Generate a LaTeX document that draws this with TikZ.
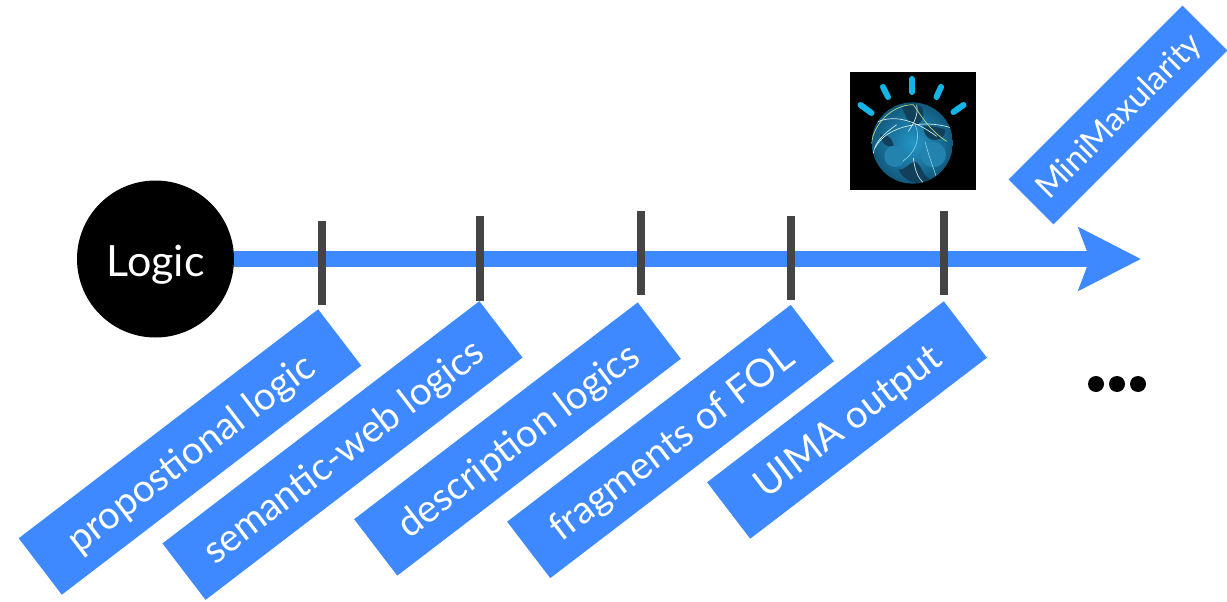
\documentclass[tikz,border=0pt]{standalone}
\usepackage{fontspec}
\setmainfont{Lato}
\usetikzlibrary{arrows.meta}
\definecolor{bluebar}{HTML}{3E89FF}
\definecolor{tickgrey}{HTML}{444444}
\definecolor{raycyan}{HTML}{14B4E6}
\definecolor{globelight}{HTML}{2396C6}
\definecolor{globeedge}{HTML}{12587C}
\definecolor{globedark}{HTML}{123F5A}
\definecolor{globeland}{HTML}{2482AE}
\definecolor{netwhite}{HTML}{C9E8EC}
\definecolor{netgreen}{HTML}{B4D88C}
\definecolor{netcyan}{HTML}{7CCBE6}
\tikzset{
  label box/.style={fill=bluebar,text=white,inner sep=0pt,text height=49.5pt,text depth=21.5pt,rotate=37.4,font=\fontsize{38.5}{38.5}\selectfont},
  tick mark/.style={draw=none,fill=tickgrey,minimum width=8pt,inner sep=0pt},
  ray/.style={draw=raycyan,line width=6pt,line cap=round},
  dot mark/.style={circle,fill=black,minimum size=16pt,inner sep=0pt},
  net/.style={draw=#1,line width=.7pt},
}
\begin{document}
\begin{tikzpicture}[x=1pt,y=-1pt]
\useasboundingbox (0,0) rectangle (1227,602);
% connector
\node[circle,fill=black,text=white,minimum size=157pt,inner sep=0pt,text height=57.7pt,text depth=22.3pt,font=\fontsize{43}{43}\selectfont] (logic) at (155.5,259) {Logic};
\coordinate (tip) at (1141,259);
\draw[bluebar,line width=16pt,-{Stealth[length=62pt,width=62pt,inset=11pt]}] (logic.east) -- (tip);
% ticks
\node[tick mark,minimum height=84pt] (t1) at (322,263) {};
\node[tick mark,minimum height=85pt] (t2) at (480,258.5) {};
\node[tick mark,minimum height=84pt] (t3) at (640.5,253) {};
\node[tick mark,minimum height=84pt] (t4) at (791,258) {};
\node[tick mark,minimum height=84pt] (t5) at (944,253) {};
% labels
\node[label box,minimum width=377pt] (l1) at (190,452) {propostional logic};
\node[label box,minimum width=399pt] (l2) at (342.5,450.5) {semantic-web logics};
\node[label box,minimum width=357pt] (l3) at (517.5,439) {description logics};
\node[label box,minimum width=357pt] (l4) at (670.5,441.5) {fragments of FOL};
\node[label box,minimum width=298pt] (l5) at (847,420) {UIMA output};
\node[label box,minimum width=246pt,rotate=7.6,text height=43.65pt,text depth=19.85pt,font=\fontsize{33}{33}\selectfont] (l6) at (1118,115) {MiniMaxularity};
% dots
\node[dot mark] (d1) at (1096,384) {};
\node[dot mark] (d2) at (1117,384) {};
\node[dot mark] (d3) at (1138,384) {};
% watson picture
\fill[black] (850,72) rectangle (976,190);
\draw[ray] (860.5,105) -- (871.5,113);
\draw[ray] (883,87) -- (888,97);
\draw[ray] (912,79) -- (912,92);
\draw[ray] (941,87) -- (936.5,97);
\draw[ray] (963.5,105) -- (953.5,112);
\begin{scope}
\clip (912.3,143) circle[radius=40.6];
\shade[inner color=globelight,outer color=globeedge] (871,102) rectangle (954,184);
\begin{scope}[shift={(865,98)},x=.3333pt,y=-.3333pt]
\fill[globedark] (112,28) .. controls (130,10) and (150,15) .. (168,25) .. controls (185,50) and (170,75) .. (150,85) .. controls (130,75) and (120,55) .. (112,28) -- cycle;
\fill[globedark] (175,85) .. controls (200,80) and (225,90) .. (240,95) .. controls (245,120) and (215,130) .. (200,125) .. controls (185,120) and (175,105) .. (175,85) -- cycle;
\fill[globedark] (100,215) .. controls (125,215) and (130,195) .. (150,190) .. controls (175,205) and (170,235) .. (195,240) .. controls (170,262) and (125,262) .. (100,215) -- cycle;
\fill[globedark] (45,110) .. controls (60,105) and (85,120) .. (85,145) .. controls (65,150) and (50,135) .. (45,110) -- cycle;
\fill[globeland] (90,175) circle[radius=32];
\fill[globeland] (205,170) circle[radius=38];
\draw[net=netgreen] (20,135) .. controls (25,80) and (80,20) .. (145,20);
\draw[net=netgreen] (145,20) .. controls (160,40) and (190,95) .. (245,130);
\draw[net=netwhite] (30,150) .. controls (50,110) and (100,85) .. (155,80) .. controls (190,75) and (230,80) .. (260,90);
\draw[net=netwhite] (30,75) .. controls (80,50) and (140,60) .. (215,115);
\draw[net=netcyan] (150,80) .. controls (170,120) and (150,165) .. (113,190);
\draw[net=netwhite] (25,165) .. controls (30,130) and (60,105) .. (95,80);
\draw[net=netwhite] (155,20) .. controls (160,50) and (150,70) .. (130,100);
\draw[net=netwhite] (145,180) .. controls (150,220) and (160,240) .. (175,255);
\draw[net=netcyan] (180,130) .. controls (190,170) and (205,210) .. (215,240);
\end{scope}
\end{scope}
\end{tikzpicture}
\end{document}
